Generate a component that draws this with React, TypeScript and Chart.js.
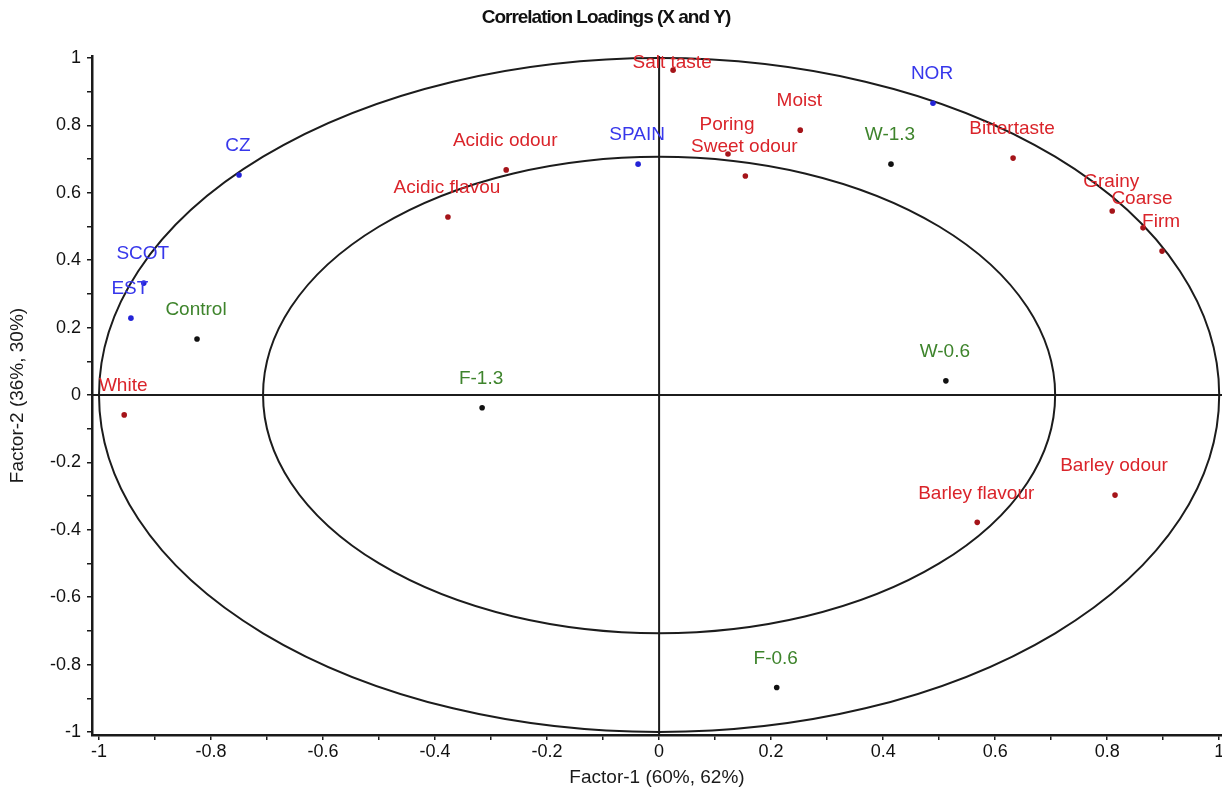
import React, { useEffect, useRef } from "react";
import { Chart, registerables } from "chart.js";

Chart.register(...registerables);

// ---- Data ----
// Y-variables (sensory attributes) – red
const attrNames = [
  "Salt taste", "Moist", "Acidic odour", "Acidic flavou", "Poring", "Sweet odour",
  "Bittertaste", "Grainy", "Coarse", "Firm", "White", "Barley odour", "Barley flavour",
];
const attrX = [0.025, 0.252, -0.273, -0.377, 0.123, 0.154, 0.632, 0.809, 0.864, 0.898, -0.955, 0.814, 0.568];
const attrY = [0.964, 0.786, 0.668, 0.528, 0.715, 0.65, 0.703, 0.546, 0.496, 0.427, -0.059, -0.297, -0.378];

// X-variables (origins) – blue
const originNames = ["NOR", "SPAIN", "CZ", "SCOT", "EST"];
const originX = [0.489, -0.0375, -0.75, -0.92, -0.943];
const originY = [0.866, 0.685, 0.653, 0.332, 0.228];

// Samples – black dots, green labels
const sampleNames = ["Control", "F-1.3", "W-0.6", "W-1.3", "F-0.6"];
const sampleX = [-0.825, -0.316, 0.512, 0.414, 0.21];
const sampleY = [0.166, -0.038, 0.042, 0.685, -0.868];

// Correlation circles (100% and 50% explained variance)
const circleRadii = [1.0, 0.7071];

// Axis ticks
const majorTicks = [-1, -0.8, -0.6, -0.4, -0.2, 0, 0.2, 0.4, 0.6, 0.8, 1];
const minorTicks = [-0.9, -0.7, -0.5, -0.3, -0.1, 0.1, 0.3, 0.5, 0.7, 0.9];
const tickLabels = ["-1", "-0.8", "-0.6", "-0.4", "-0.2", "0", "0.2", "0.4", "0.6", "0.8", "1"];

const chartTitle = "Correlation Loadings (X and Y)";
const xTitle = "Factor-1 (60%, 62%)";
const yTitle = "Factor-2 (36%, 30%)";

const FONT = "'Liberation Sans', Arial, sans-serif";

const groups = [
  { names: attrNames, xs: attrX, ys: attrY, dot: "rgb(165,20,25)", text: "rgb(218,36,42)" },
  { names: originNames, xs: originX, ys: originY, dot: "rgb(35,35,215)", text: "rgb(55,55,235)" },
  { names: sampleNames, xs: sampleX, ys: sampleY, dot: "#111", text: "rgb(62,132,44)" },
];

const allTicks = [...majorTicks, ...minorTicks].sort((a, b) => a - b);
const labelFor = (v: number) => {
  const i = majorTicks.findIndex((m) => Math.abs(m - v) < 1e-6);
  return i >= 0 ? tickLabels[i] : "";
};

const overlayPlugin = {
  id: "overlay",
  beforeDatasetsDraw(chart: any) {
    const { ctx, chartArea, scales } = chart;
    const x = scales.x;
    const y = scales.y;
    const cx = x.getPixelForValue(0);
    const cy = y.getPixelForValue(0);
    ctx.save();
    ctx.strokeStyle = "#1c1c1c";
    ctx.lineWidth = 2;
    circleRadii.forEach((r) => {
      const rx = x.getPixelForValue(r) - cx;
      const ry = cy - y.getPixelForValue(r);
      ctx.beginPath();
      ctx.ellipse(cx, cy, rx, ry, 0, 0, Math.PI * 2);
      ctx.stroke();
    });
    ctx.beginPath();
    ctx.moveTo(chartArea.left, cy);
    ctx.lineTo(chartArea.right, cy);
    ctx.moveTo(cx, chartArea.top);
    ctx.lineTo(cx, chartArea.bottom);
    ctx.stroke();
    ctx.restore();
  },
  afterDatasetsDraw(chart: any) {
    const { ctx, chartArea } = chart;
    ctx.save();
    ctx.font = `19px ${FONT}`;
    ctx.textAlign = "center";
    ctx.textBaseline = "middle";
    groups.forEach((g, gi) => {
      const meta = chart.getDatasetMeta(gi);
      meta.data.forEach((pt: any, i: number) => {
        const ty = Math.max(pt.y - 29, chartArea.top + 7);
        ctx.fillStyle = g.text;
        ctx.fillText(g.names[i], pt.x - 1, ty);
      });
    });
    ctx.restore();
  },
  afterDraw(chart: any) {
    const { ctx, chartArea } = chart;
    ctx.save();
    ctx.fillStyle = "#111";
    ctx.textAlign = "center";
    ctx.textBaseline = "middle";
    ctx.font = `bold 19px ${FONT}`;
    (ctx as any).letterSpacing = "-1px";
    ctx.fillText(chartTitle, 606, 18);
    (ctx as any).letterSpacing = "0px";
    ctx.fillStyle = "#1a1a1a";
    ctx.font = `19px ${FONT}`;
    ctx.fillText(xTitle, (chartArea.left + chartArea.right) / 2, 778);
    ctx.translate(18, (chartArea.top + chartArea.bottom) / 2);
    ctx.rotate(-Math.PI / 2);
    ctx.fillText(yTitle, 0, 0);
    ctx.restore();
  },
};

export default function App() {
  const canvasRef = useRef<HTMLCanvasElement | null>(null);

  useEffect(() => {
    document.body.style.margin = "0";
    const canvas = canvasRef.current;
    if (!canvas) return;

    const datasets = groups.map((g) => ({
      data: g.xs.map((v, i) => ({ x: v, y: g.ys[i] })),
      backgroundColor: g.dot,
      borderColor: g.dot,
      pointRadius: 2.8,
      pointBorderWidth: 0,
      clip: false as any,
    }));

    const axisCommon = (fitKey: "width" | "height", size: number) => ({
      type: "linear" as const,
      border: { display: true, color: "#1a1a1a", width: 2.5 },
      grid: {
        display: true,
        drawOnChartArea: false,
        drawTicks: true,
        tickLength: 5,
        color: "#1a1a1a",
        lineWidth: 1.5,
      },
      ticks: {
        autoSkip: false,
        maxRotation: 0,
        color: "#111",
        font: { size: 18, family: FONT },
        callback: (v: any) => labelFor(Number(v)),
      },
      afterBuildTicks: (axis: any) => {
        axis.ticks = allTicks.map((v) => ({ value: v }));
      },
      afterFit: (axis: any) => {
        axis[fitKey] = size;
        axis.paddingLeft = 0;
        axis.paddingRight = 0;
        axis.paddingTop = 0;
        axis.paddingBottom = 0;
      },
    });

    const xAxis: any = axisCommon("height", 58);
    xAxis.min = -1.0125;
    xAxis.max = 1.005;
    xAxis.position = "bottom";
    xAxis.ticks.padding = 1;

    const yAxis: any = axisCommon("width", 92);
    yAxis.min = -1.009;
    yAxis.max = 1.006;
    yAxis.position = "left";
    yAxis.ticks.padding = 6;

    const chart = new Chart(canvas, {
      type: "scatter",
      data: { datasets },
      options: {
        animation: false,
        responsive: true,
        maintainAspectRatio: false,
        layout: { autoPadding: false, padding: { top: 56, right: 0, left: 0, bottom: 0 } },
        plugins: {
          legend: { display: false },
          tooltip: { enabled: false },
          title: { display: false },
        },
        scales: { x: xAxis, y: yAxis },
      },
      plugins: [overlayPlugin],
    });

    return () => chart.destroy();
  }, []);

  return (
    <div style={{ width: 1222, height: 793, position: "relative", background: "#fff" }}>
      <canvas ref={canvasRef} />
    </div>
  );
}
